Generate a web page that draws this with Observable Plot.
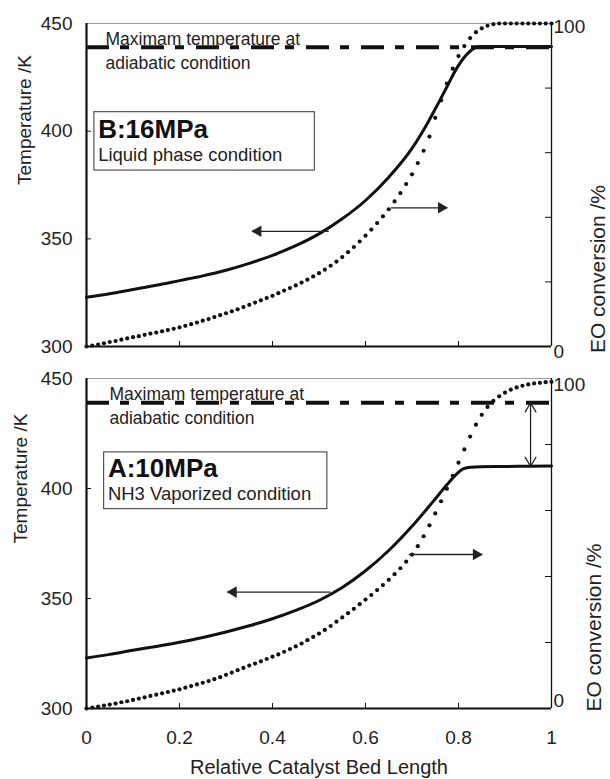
<!DOCTYPE html>
<html>
<head>
<meta charset="utf-8">
<script src="https://cdn.jsdelivr.net/npm/d3@7"></script>
<script src="https://cdn.jsdelivr.net/npm/@observablehq/plot@0.6"></script>
<style>
  body { margin: 0; background: #fff; }
  #chart { width: 610px; }
  #chart svg { display: block; }
</style>
</head>
<body>
<div id="chart"></div>
<script>
// ---------- data ----------
const bedLength = [0,0.0125,0.025,0.0375,0.05,0.0625,0.075,0.0875,0.1,0.1125,0.125,0.1375,0.15,0.1625,0.175,0.1875,0.2,0.2125,0.225,0.2375,0.25,0.2625,0.275,0.2875,0.3,0.3125,0.325,0.3375,0.35,0.3625,0.375,0.3875,0.4,0.4125,0.425,0.4375,0.45,0.4625,0.475,0.4875,0.5,0.5125,0.525,0.5375,0.55,0.5625,0.575,0.5875,0.6,0.6125,0.625,0.6375,0.65,0.6625,0.675,0.6875,0.7,0.7125,0.725,0.7375,0.75,0.7625,0.775,0.7875,0.8,0.8125,0.825,0.8375,0.85,0.8625,0.875,0.8875,0.9,0.9125,0.925,0.9375,0.95,0.9625,0.975,0.9875,1];

// EO conversion (%) — B: 16 MPa (top panel)
const conversionB = [
  0, 0.3, 0.6, 1.0, 1.4, 1.7, 2.1, 2.5,
  2.9, 3.2, 3.6, 4.0, 4.3, 4.7, 5.1, 5.5,
  5.9, 6.4, 6.9, 7.4, 8.0, 8.5, 9.1, 9.7,
  10.3, 10.9, 11.5, 12.2, 12.9, 13.6, 14.3, 15.0,
  15.7, 16.5, 17.3, 18.1, 18.9, 19.8, 20.7, 21.7,
  22.7, 23.8, 25.0, 26.3, 27.7, 29.2, 30.8, 32.5,
  34.3, 36.2, 38.2, 40.3, 42.5, 44.9, 47.5, 50.3,
  53.3, 56.8, 60.6, 65.0, 70.8, 76.2, 81.4, 86.0,
  89.9, 93.0, 95.5, 97.3, 98.5, 99.3, 99.8, 100,
  100, 100, 100, 100, 100, 100, 100, 100,
  100
];
// EO conversion (%) — A: 10 MPa (bottom panel)
const conversionA = [
  0, 0.3, 0.6, 0.9, 1.2, 1.5, 1.9, 2.2,
  2.6, 3.0, 3.4, 3.8, 4.2, 4.6, 5.0, 5.4,
  5.8, 6.3, 6.8, 7.3, 7.8, 8.3, 8.9, 9.5,
  10.2, 10.9, 11.6, 12.3, 13.0, 13.6, 14.3, 15.0,
  15.7, 16.4, 17.2, 18.0, 18.8, 19.7, 20.7, 21.7,
  22.7, 23.8, 25.0, 26.3, 27.6, 28.9, 30.2, 31.6,
  33.0, 34.4, 35.9, 37.4, 39.0, 40.7, 42.5, 44.5,
  46.6, 49.2, 52.2, 55.5, 59.1, 62.8, 66.6, 70.5,
  74.5, 78.5, 82.4, 86.0, 89.0, 91.4, 93.2, 94.6,
  95.7, 96.6, 97.3, 97.8, 98.2, 98.5, 98.7, 98.9,
  99.0
];

// Temperature (K)
const tempXB = [0,0.05,0.1,0.15,0.2,0.25,0.3,0.35,0.4,0.45,0.5,0.55,0.6,0.65,0.7,0.733,0.754,0.776,0.797,0.819,0.836,0.85,0.9,0.95,1];
const temperatureB = [322.9,324.5,326.5,328.4,330.6,332.8,335.4,338.6,342.3,346.8,352.3,359.3,367.8,378.6,392.0,403.6,411.9,421.0,429.5,435.9,438.7,439.3,439.3,439.3,439.3];
const tempXA = [0,0.05,0.1,0.15,0.2,0.25,0.3,0.35,0.4,0.45,0.5,0.55,0.6,0.65,0.7,0.747,0.776,0.797,0.811,0.826,0.89,0.95,1];
const temperatureA = [323.0,324.6,326.5,328.2,330.1,332.3,334.8,337.6,340.8,344.6,349.1,355.0,362.6,371.8,382.8,394.5,401.9,406.8,409.0,409.7,410.0,410.1,410.2];

const adiabaticMax = 439;

// axes
const xDomain = [0, 1];
const tempDomain = [300, 450];
const xTicks = [0, 0.2, 0.4, 0.6, 0.8, 1];
const tempTicks = [300, 350, 400, 450];
const convTicks = [0, 20, 40, 60, 80, 100];

// annotations (data units: bed length, temperature K)
const noteText = "Maximam temperature at\nadiabatic condition";
const boxB = {x1: 0.017, x2: 0.491, y1: 381.7, y2: 408.8};
const boxA = {x1: 0.038, x2: 0.518, y1: 390.6, y2: 416.4};
const titleB = [{x: 0.025, y: 400.8, text: "B:16MPa"}, {x: 0.025, y: 388.8, text: "Liquid phase condition"}];
const titleA = [{x: 0.046, y: 408.9, text: "A:10MPa"}, {x: 0.046, y: 397.4, text: "NH3 Vaporized condition"}];
const arrowLeftB = {x1: 0.521, x2: 0.356, y: 353.5};
const arrowRightB = {x1: 0.655, x2: 0.776, y: 364.4};
const arrowLeftA = {x1: 0.525, x2: 0.303, y: 352.9};
const arrowRightA = {x1: 0.693, x2: 0.851, y: 370.0};
const gapArrowA = {x: 0.955, top: 439, bottom: 410};

// ---------- drawing ----------
const toT = c => tempDomain[0] + c * (tempDomain[1] - tempDomain[0]) / 100;
const FONT = "'Liberation Sans', Arial, Helvetica, sans-serif";
const INK = "#111";
const ML = 86, MR = 59, WIDTH = 610;

function panel(cfg) {
  const W = WIDTH - ML - MR;
  const H = cfg.height - cfg.marginTop - cfg.marginBottom;
  const dots = bedLength.map((x, i) => ({x, c: cfg.conv[i]}));
  const temps = cfg.tx.map((x, i) => ({x, T: cfg.temp[i]}));
  const innerX = xTicks.slice(1, -1);
  const innerT = tempTicks.slice(1, -1);
  const innerC = convTicks.slice(1, -1);
  const marks = [
    // frame
    Plot.ruleY([tempDomain[1]], {stroke: "#9a9a9a", strokeWidth: 1}),
    Plot.ruleY([tempDomain[0]], {stroke: INK, strokeWidth: 1.8}),
    Plot.ruleX([xDomain[1]], {stroke: INK, strokeWidth: 1.3}),
    Plot.ruleX([xDomain[0]], {stroke: INK, strokeWidth: 2.2}),
    // inward ticks
    Plot.tickX(innerX, {x: d => d, insetTop: H - 5, stroke: INK, strokeWidth: 1}),
    Plot.tickY(innerT, {y: d => d, insetRight: W - 5, stroke: INK, strokeWidth: 1}),
    Plot.tickY(innerC, {y: d => toT(d), insetLeft: W - 6, stroke: INK, strokeWidth: 1}),
    // tick labels
    Plot.axisY(tempTicks, {anchor: "left", tickSize: 0, tickPadding: 14, fontSize: 19, label: null, tickFormat: d => String(d)}),
    Plot.axisY([toT(convTicks[convTicks.length - 1])], {anchor: "right", tickSize: 0, tickPadding: 2, fontSize: 19, label: null, dy: cfg.dyTopLabel, tickFormat: d => String(Math.round((d - tempDomain[0]) / 1.5))}),
    Plot.axisY([toT(convTicks[0])], {anchor: "right", tickSize: 0, tickPadding: 2, fontSize: 19, label: null, dy: cfg.dyBottomLabel, tickFormat: d => String(Math.round((d - tempDomain[0]) / 1.5))}),
    // axis titles
    Plot.text(["Temperature /K"], {frameAnchor: "left", dx: cfg.dxLeftTitle, rotate: -90, fontSize: 19, fill: "#222"}),
    Plot.text(["EO conversion /%"], {frameAnchor: "right", dx: cfg.dxRightTitle, rotate: -90, fontSize: 21, fill: "#222"}),
    // adiabatic max line
    Plot.ruleY([adiabaticMax], {stroke: INK, strokeWidth: 4, strokeDasharray: "23,11,9,12"}),
    Plot.text([noteText], {frameAnchor: "top-left", dx: cfg.noteDx, dy: 4, lineAnchor: "top", textAnchor: "start", fontSize: 17.5, lineHeight: 1.4, fill: "#222"}),
    // data
    Plot.line(temps, {x: "x", y: "T", curve: "monotone-x", stroke: INK, strokeWidth: 3}),
    Plot.dot(dots, {x: "x", y: d => toT(d.c), r: 2.1, fill: INK, stroke: "none"}),
    // label box
    Plot.rect([cfg.box], {x1: "x1", x2: "x2", y1: "y1", y2: "y2", fill: "white", stroke: "#333", strokeWidth: 1}),
    Plot.text([cfg.title[0]], {x: "x", y: "y", text: "text", textAnchor: "start", fontSize: 26, fontWeight: "bold", fill: INK}),
    Plot.text([cfg.title[1]], {x: "x", y: "y", text: "text", textAnchor: "start", fontSize: 18.5, fill: "#222"}),
    // direction arrows
    Plot.link([cfg.arrowLeft, cfg.arrowRight], {x1: "x1", x2: "x2", y1: "y", y2: "y", stroke: "#222", strokeWidth: 1.3}),
    Plot.dot([cfg.arrowLeft], {x: "x2", y: "y", symbol: "triangle", r: 4.3, rotate: -90, dx: 6, fill: "#222", stroke: "none"}),
    Plot.dot([cfg.arrowRight], {x: "x2", y: "y", symbol: "triangle", r: 4.3, rotate: 90, dx: -6, fill: "#222", stroke: "none"})
  ];
  if (cfg.gap) {
    const g = cfg.gap, mid = (g.top + g.bottom) / 2;
    marks.push(Plot.arrow([{y1: mid, y2: g.top}, {y1: mid, y2: g.bottom}], {
      x: () => g.x, y1: "y1", y2: "y2", stroke: "#222", strokeWidth: 1.3, headLength: 14, headAngle: 60
    }));
  }
  if (cfg.showX) {
    marks.push(Plot.axisX(xTicks, {anchor: "bottom", tickSize: 0, tickPadding: 22, fontSize: 19, label: null, tickFormat: d => String(d)}));
    marks.push(Plot.text(["Relative Catalyst Bed Length"], {frameAnchor: "bottom", dy: 65, fontSize: 20, fill: "#222"}));
  }
  return Plot.plot({
    width: WIDTH,
    height: cfg.height,
    marginLeft: ML,
    marginRight: MR,
    marginTop: cfg.marginTop,
    marginBottom: cfg.marginBottom,
    style: {fontFamily: FONT, fontSize: "19px", color: "#222", background: "#fff", overflow: "visible"},
    x: {domain: xDomain, axis: null, label: null},
    y: {domain: tempDomain, axis: null, label: null},
    marks
  });
}

const chart = document.getElementById("chart");
chart.append(panel({
  height: 356, marginTop: 23, marginBottom: 10,
  conv: conversionB, tx: tempXB, temp: temperatureB,
  box: boxB, title: titleB, arrowLeft: arrowLeftB, arrowRight: arrowRightB,
  noteDx: 19, dyTopLabel: 3, dyBottomLabel: 5, dxLeftTitle: -62, dxRightTitle: 47, showX: false
}));
chart.append(panel({
  height: 423, marginTop: 22, marginBottom: 71,
  conv: conversionA, tx: tempXA, temp: temperatureA,
  box: boxA, title: titleA, arrowLeft: arrowLeftA, arrowRight: arrowRightA, gap: gapArrowA,
  noteDx: 23, dyTopLabel: 6, dyBottomLabel: -8, dxLeftTitle: -66, dxRightTitle: 43, showX: true
}));
</script>
</body>
</html>
